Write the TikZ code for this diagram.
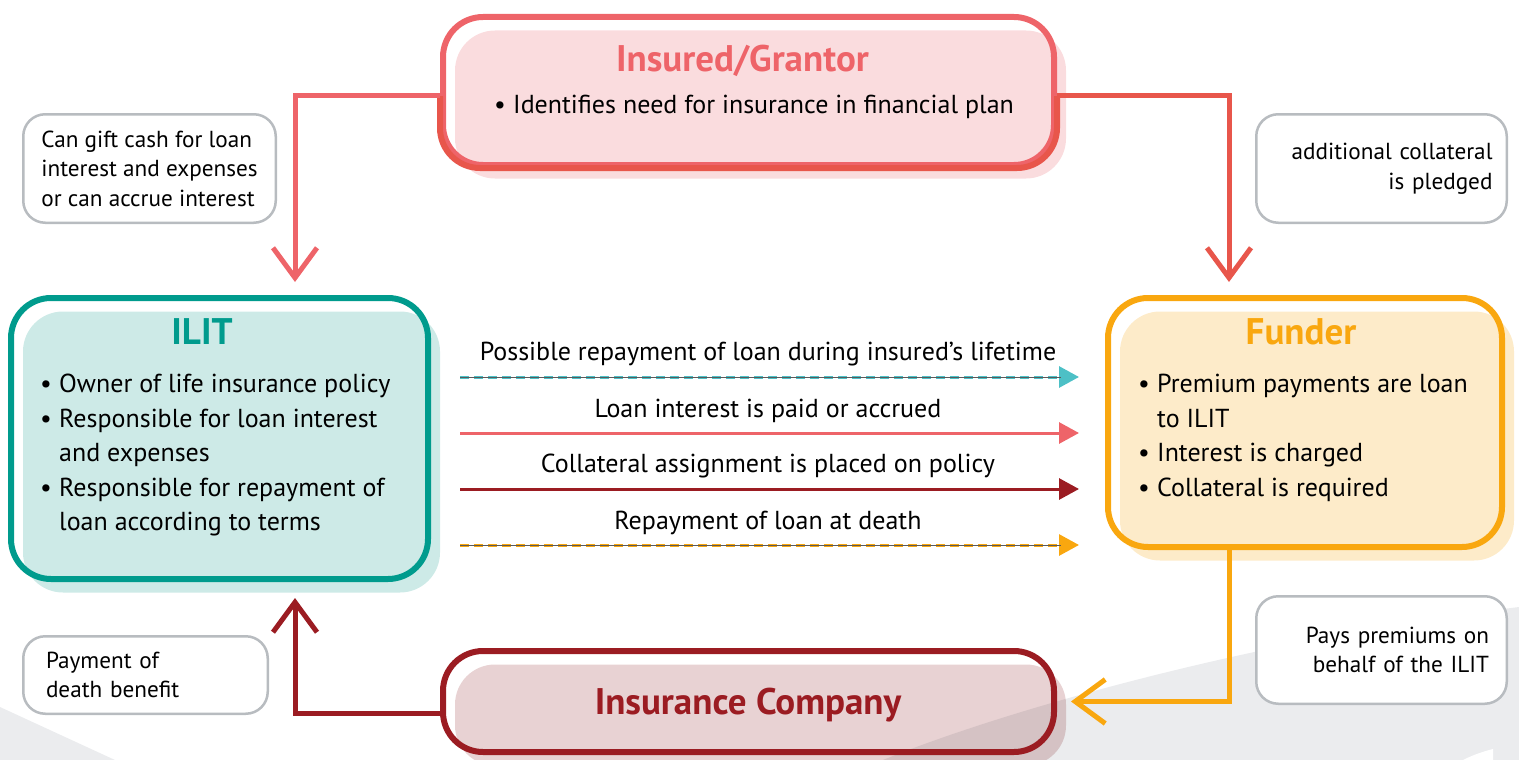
\documentclass[tikz,border=0pt]{standalone}
\usepackage{fontspec}
\setmainfont{PT Sans}
\usetikzlibrary{arrows.meta}

\definecolor{ilitline}{HTML}{009B8D}
\definecolor{ilitfill}{HTML}{CDEAE7}
\definecolor{grantline}{HTML}{EE6469}
\definecolor{grantlow}{HTML}{E8564B}
\definecolor{grantfill}{HTML}{FADCDE}
\definecolor{fundline}{HTML}{F9A70F}
\definecolor{fundfill}{HTML}{FDEBC9}
\definecolor{coline}{HTML}{9B1C22}
\definecolor{cofill}{HTML}{E8D2D3}
\definecolor{noteline}{HTML}{B8BCC0}
\definecolor{swoosh}{HTML}{EBECEE}
\definecolor{aqua}{HTML}{4DC0C6}
\definecolor{hairgray}{HTML}{5A5A5A}

\newcommand\bul{\makebox[19pt][l]{\textbullet}}
\newcommand\nobul{\hspace*{19pt}}

\begin{document}
\begin{tikzpicture}[
    x=1pt, y=-1pt,
    party/.style={draw, rounded corners=40pt, line width=6pt, inner sep=0pt},
    backfill/.style={preaction={fill=#1, draw=none, blend mode=multiply,
        transform canvas={shift={(12pt,-13.5pt)}}}},
    title/.style={font=\fontsize{37}{37}\selectfont\bfseries, anchor=base},
    body/.style={font=\fontsize{26}{34.5}\selectfont, align=left, anchor=north west, inner sep=0pt},
    note/.style={draw=noteline, line width=2.5pt, rounded corners=22pt, fill=white,
        font=\fontsize{23.2}{29.5}\selectfont, inner sep=0pt},
    feed/.style={line width=5pt, -{Straight Barb[length=30pt,width=44pt]}},
    flow/.style={line width=3pt, shorten <=29pt, shorten >=26pt, -{Triangle[length=20pt,width=21pt]}},
    dashflow/.style={flow, dash pattern=on 9pt off 5pt},
    hair/.style={draw=hairgray, line width=0.8pt, shorten <=29pt, shorten >=44pt},
    lbl/.style={font=\fontsize{26}{26}\selectfont, inner sep=0pt, above=9pt}
]
    \useasboundingbox (0,0) rectangle (1519,760);

    % Background swoosh
    \fill[swoosh] (0,707) -- (115,760) -- (0,760) -- cycle;
    \fill[swoosh] (883,760) .. controls (1000,712) and (1250,640) .. (1519,607) -- (1519,760) -- cycle;
    \fill[white] (1463,760) .. controls (1475,754) and (1485,751) .. (1493,749) -- (1493,760) -- cycle;

    % Parties
    \node[party, draw=grantline, backfill=grantfill, minimum width=611pt, minimum height=148pt] (grantor) at (748.5,91) {};
    \node[party, draw=ilitline, backfill=ilitfill, minimum width=417pt, minimum height=281pt] (ilit) at (219.5,438.5) {};
    \node[party, draw=fundline, backfill=fundfill, minimum width=394pt, minimum height=249pt] (funder) at (1305,422.5) {};
    \node[party, draw=coline, backfill=cofill, minimum width=611pt, minimum height=101pt] (company) at (748.5,701.5) {};
    \begin{scope}
        \clip (0,97) rectangle (1519,200);
        \draw[grantlow, line width=6pt, rounded corners=40pt] (grantor.north west) rectangle (grantor.south east);
    \end{scope}

    % Titles and duties
    \node[title, text=grantline] (granttitle) at (742.5,72) {Insured/Grantor};
    \node[body] (granttext) at (494,95) {\bul Identifies need for insurance in financial plan};
    \node[title, text=ilitline] (ilittitle) at (202,344) {ILIT};
    \node[body] (ilittext) at (40,374) {\bul Owner of life insurance policy\\
        \bul Responsible for loan interest\\ \nobul and expenses\\
        \bul Responsible for repayment of\\ \nobul loan according to terms};
    \node[title, text=fundline] (fundtitle) at (1301,344) {Funder};
    \node[body] (fundtext) at (1138,374) {\bul Premium payments are loan\\ \nobul to ILIT\\
        \bul Interest is charged\\ \bul Collateral is required};
    \node[title, text=coline] (cotitle) at (748,714.5) {Insurance Company};

    % Side notes
    \node[note, minimum width=252.5pt, minimum height=108.5pt, align=left] (giftnote)
        at (149.5,168.5) {Can gift cash for loan\\interest and expenses\\or can accrue interest};
    \node[note, minimum width=250.5pt, minimum height=108.5pt, text width=222pt, align=right] (pledgenote)
        at (1381.5,168.5) {additional collateral\\is pledged};
    \node[note, minimum width=244.5pt, minimum height=77.5pt, text width=199pt, align=left] (deathnote)
        at (145.5,675) {Payment of\\death benefit};
    \node[note, minimum width=250.5pt, minimum height=107.5pt, text width=215pt, align=right] (paysnote)
        at (1381.5,650) {Pays premiums on\\behalf of the ILIT};

    % Cash flows around the parties
    \draw[feed, grantline] ([yshift=-5pt]grantor.west) -| ([xshift=75.5pt,yshift=13pt]ilit.north);
    \draw[feed, grantlow] ([yshift=-5pt]grantor.east) -| ([xshift=-76pt,yshift=13pt]funder.north);
    \draw[feed, fundline] ([xshift=-76pt]funder.south) |- ([xshift=14pt]company.east);
    \draw[feed, coline] ([yshift=-11.5pt]company.west) -| ([xshift=75.5pt,yshift=-16pt]ilit.south);

    % Loan flows from ILIT to funder
    \draw[dashflow, aqua] (ilit.east |- 0,377) -- node[lbl, text=black] {Possible repayment of loan during insured’s lifetime} (funder.west |- 0,377);
    \draw[hair] (ilit.east |- 0,377) -- (funder.west |- 0,377);
    \draw[flow, grantline] (ilit.east |- 0,433) -- node[lbl, text=black] {Loan interest is paid or accrued} (funder.west |- 0,433);
    \draw[flow, coline] (ilit.east |- 0,489) -- node[lbl, text=black] {Collateral assignment is placed on policy} (funder.west |- 0,489);
    \draw[dashflow, fundline] (ilit.east |- 0,545) -- node[lbl, text=black] {Repayment of loan at death} (funder.west |- 0,545);
    \draw[hair] (ilit.east |- 0,545) -- (funder.west |- 0,545);
\end{tikzpicture}
\end{document}
